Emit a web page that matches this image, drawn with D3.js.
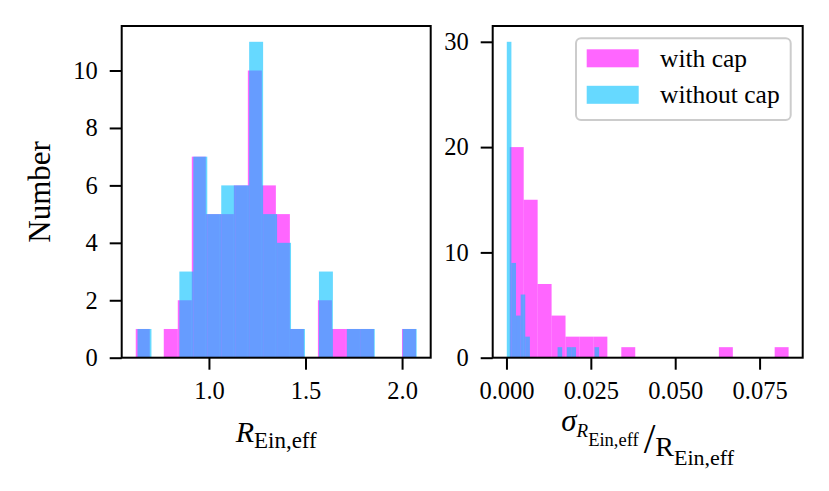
<!DOCTYPE html>
<html lang="en">
<head>
<meta charset="UTF-8">
<title>R_Ein,eff histograms</title>
<style>
    body { margin:0; background:#fff; }
    svg { display:block; font-family:"Liberation Serif","Times New Roman",serif; }
    .axis line { stroke:black; stroke-width:2; }
    .axis path { display:none; }
    .axis text {
        font-family:"Liberation Serif","Times New Roman",serif;
        font-size:24.5px;
        fill:black;
    }
    .frame { fill:none; stroke:black; stroke-width:2; }
</style>
</head>
<body>
<script src="https://cdn.jsdelivr.net/npm/d3@7/dist/d3.min.js"></script>
<script>
    // left panel: R_Ein,eff, 20 bins per series, [first edge, last edge]
    var rCapRange = [0.621, 2.072];
    var rCapCounts = [1,0,1,2,7,5,5,6,10,6,5,1,0,2,1,1,1,0,0,1];
    var rNoCapRange = [0.630, 2.0755];
    var rNoCapCounts = [1,0,0,3,7,5,6,6,11,5,4,1,0,3,0,1,1,0,0,1];

    // right panel: sigma / R_Ein,eff
    var sCapRange = [0.00098, 0.0836];
    var sCapCounts = [20,15,7,4,2,2,2,0,1,0,0,0,0,0,0,1,0,0,0,1];
    var sNoCapRange = [0.0001, 0.02746];
    var sNoCapCounts = [30,9,4,6,2,0,0,0,0,0,0,1,0,1,1,0,0,0,0,1];

    var leftXTicks = [1.0, 1.5, 2.0];
    var leftYTicks = [0, 2, 4, 6, 8, 10];
    var rightXTicks = [0, 0.025, 0.05, 0.075];
    var rightYTicks = [0, 10, 20, 30];

    var seriesNames = ["with cap", "without cap"];
    var seriesColors = ["#ff00ff", "#00bfff"];

    var w = 829, h = 491;
    var svg = d3.select("body").append("svg").attr("width", w).attr("height", h);

    function binsOf(range, counts) {
        var step = (range[1] - range[0]) / counts.length;
        return counts.map(function (c, i) {
            return { x0: range[0] + i * step, x1: range[0] + (i + 1) * step, n: c };
        });
    }

    // one axes box with two overlaid histograms
    function panel(box, ranges, counts, xTicks, xFmt, yTicks) {
        var lo = d3.min(ranges, function (r) { return r[0]; });
        var hi = d3.max(ranges, function (r) { return r[1]; });
        var pad = (hi - lo) * 0.05;
        var yMax = d3.max(counts, function (c) { return d3.max(c); }) * 1.05;

        var x = d3.scaleLinear().domain([lo - pad, hi + pad]).range([box.x0, box.x1]);
        var y = d3.scaleLinear().domain([0, yMax]).range([box.y1, box.y0]);

        ranges.forEach(function (r, k) {
            svg.append("g").selectAll("rect")
                .data(binsOf(r, counts[k]).filter(function (d) { return d.n > 0; }))
                .enter()
                .append("rect")
                .attr("x", function (d) { return x(d.x0); })
                .attr("width", function (d) { return x(d.x1) - x(d.x0); })
                .attr("y", function (d) { return y(d.n); })
                .attr("height", function (d) { return y(0) - y(d.n); })
                .attr("fill", seriesColors[k])
                .attr("fill-opacity", 0.6);
        });

        svg.append("g").attr("class", "axis")
            .attr("transform", "translate(0," + box.y1 + ")")
            .call(d3.axisBottom(x).tickValues(xTicks).tickFormat(d3.format(xFmt))
                .tickSize(12).tickSizeOuter(0).tickPadding(12));
        svg.append("g").attr("class", "axis")
            .attr("transform", "translate(" + box.x0 + ",0)")
            .call(d3.axisLeft(y).tickValues(yTicks).tickFormat(d3.format("d"))
                .tickSize(12).tickSizeOuter(0).tickPadding(12));

        svg.append("rect").attr("class", "frame")
            .attr("x", box.x0).attr("y", box.y0)
            .attr("width", box.x1 - box.x0).attr("height", box.y1 - box.y0);
        return { x: x, y: y };
    }

    var leftBox = { x0: 121.7, x1: 430.7, y0: 26, y1: 357.7 };
    var rightBox = { x0: 492.7, x1: 802.7, y0: 26, y1: 357.7 };

    panel(leftBox, [rCapRange, rNoCapRange], [rCapCounts, rNoCapCounts], leftXTicks, ".1f", leftYTicks);
    panel(rightBox, [sCapRange, sNoCapRange], [sCapCounts, sNoCapCounts], rightXTicks, ".3f", rightYTicks);

    // y label
    svg.append("text")
        .attr("transform", "translate(50," + (leftBox.y0 + leftBox.y1) / 2 + ") rotate(-90)")
        .attr("text-anchor", "middle")
        .attr("font-size", "31px")
        .text("Number");

    // left x label: R_{Ein,eff}
    var lx = svg.append("text")
        .attr("x", (leftBox.x0 + leftBox.x1) / 2)
        .attr("y", 441.5)
        .attr("text-anchor", "middle")
        .attr("font-size", "30px");
    lx.append("tspan").attr("font-style", "italic").text("R");
    lx.append("tspan").attr("font-size", "23px").attr("dy", 6).text("Ein,eff");

    // right x label: sigma_{R_{Ein,eff}} / R_{Ein,eff}
    var rx = svg.append("text")
        .attr("x", (rightBox.x0 + rightBox.x1) / 2)
        .attr("y", 431)
        .attr("text-anchor", "middle")
        .attr("font-size", "31px");
    rx.append("tspan").attr("font-style", "italic").text("σ");
    rx.append("tspan").attr("font-style", "italic").attr("font-size", "19px").attr("dy", 6).text("R");
    rx.append("tspan").attr("font-size", "18.5px").attr("dy", 9).text("Ein,eff");
    rx.append("tspan").attr("font-size", "42px").attr("dx", 5).attr("dy", 7).text("/");
    rx.append("tspan").attr("font-size", "28px").attr("dy", 3).text("R");
    rx.append("tspan").attr("font-size", "22px").attr("dy", 9).text("Ein,eff");

    // legend in the right panel
    var lg = svg.append("g").attr("transform", "translate(576,38.3)");
    lg.append("rect")
        .attr("width", 214.7).attr("height", 81.7)
        .attr("rx", 5).attr("ry", 5)
        .attr("fill", "white").attr("fill-opacity", 0.8)
        .attr("stroke", "#cccccc").attr("stroke-width", 2);
    seriesNames.forEach(function (name, i) {
        lg.append("rect")
            .attr("x", 10.7).attr("y", 11 + i * 36.5)
            .attr("width", 52).attr("height", 18)
            .attr("fill", seriesColors[i]).attr("fill-opacity", 0.6);
        lg.append("text")
            .attr("x", 84).attr("y", 28.4 + i * 36.2)
            .attr("font-size", "25.5px")
            .text(name);
    });
</script>
</body>
</html>
